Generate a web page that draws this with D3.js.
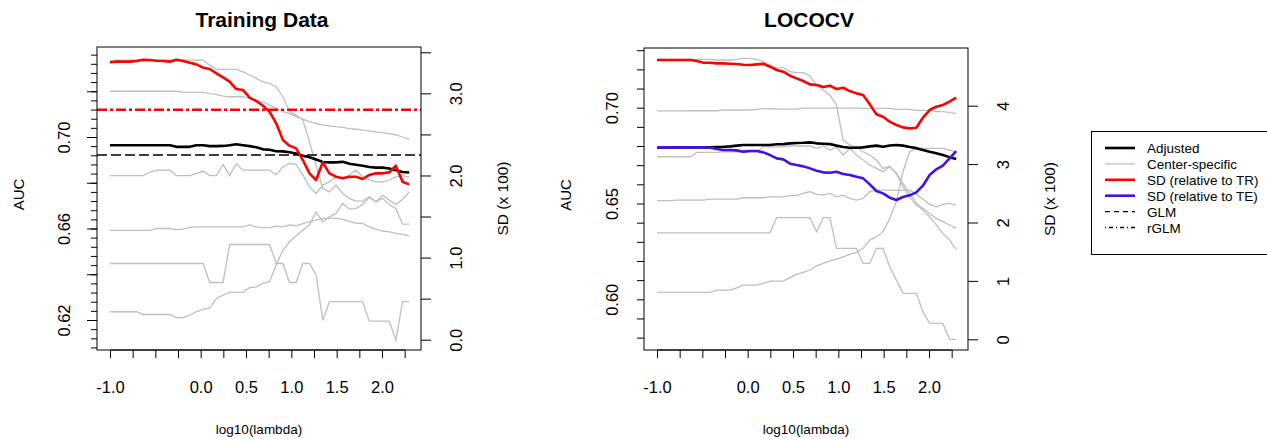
<!DOCTYPE html>
<html>
<head>
<meta charset="utf-8">
<script src="https://cdn.jsdelivr.net/npm/d3@7"></script>
<style>
  body { margin: 0; background: #fff; }
  svg text { font-family: "Liberation Sans", Arial, Helvetica, sans-serif; fill: #000; }
</style>
</head>
<body>
<script>
// log10(lambda) grid shared by every curve
const logLambda = [-1.000,-0.927,-0.853,-0.780,-0.707,-0.633,-0.560,-0.487,-0.413,-0.340,-0.267,-0.193,-0.120,-0.047,0.027,0.100,0.173,0.247,0.320,0.393,0.467,0.540,0.613,0.687,0.760,0.833,0.907,0.980,1.053,1.127,1.200,1.273,1.347,1.420,1.493,1.567,1.640,1.713,1.787,1.860,1.933,2.007,2.080,2.153,2.227,2.300]

// ---- Training Data panel (AUC on left axis, SD x100 on right axis)
const trAdjusted = [0.6964,0.6964,0.6964,0.6964,0.6964,0.6964,0.6964,0.6964,0.6964,0.6964,0.6957,0.6957,0.6957,0.6964,0.6964,0.6960,0.6960,0.6961,0.6964,0.6968,0.6964,0.6960,0.6955,0.6946,0.6944,0.6938,0.6937,0.6933,0.6928,0.6918,0.6911,0.6902,0.6891,0.6889,0.6889,0.6892,0.6883,0.6879,0.6874,0.6869,0.6866,0.6866,0.6862,0.6855,0.6847,0.6845]
const trCenterA = [0.7333,0.7336,0.7336,0.7336,0.7336,0.7336,0.7336,0.7336,0.7336,0.7336,0.7336,0.7336,0.7336,0.7336,0.7336,0.7314,0.7296,0.7296,0.7296,0.7296,0.7285,0.7271,0.7256,0.7241,0.7234,0.7219,0.7176,0.7110,0.7096,0.7074,0.6979,0.6877,0.6775,0.6760,0.6790,0.6753,0.6732,0.6720,0.6720,0.6739,0.6717,0.6732,0.6705,0.6687,0.6619,0.6619]
const trCenterB = [0.7200,0.7200,0.7200,0.7200,0.7200,0.7200,0.7200,0.7200,0.7200,0.7200,0.7200,0.7195,0.7195,0.7195,0.7195,0.7190,0.7186,0.7179,0.7176,0.7176,0.7176,0.7169,0.7160,0.7154,0.7139,0.7126,0.7111,0.7102,0.7089,0.7078,0.7067,0.7059,0.7052,0.7049,0.7045,0.7042,0.7037,0.7034,0.7030,0.7027,0.7022,0.7019,0.7015,0.7009,0.7000,0.6990]
const trCenterC = [0.6831,0.6831,0.6831,0.6831,0.6831,0.6831,0.6847,0.6855,0.6855,0.6855,0.6831,0.6831,0.6831,0.6840,0.6851,0.6831,0.6831,0.6880,0.6831,0.6883,0.6855,0.6855,0.6855,0.6855,0.6855,0.6834,0.6870,0.6884,0.6880,0.6834,0.6782,0.6753,0.6790,0.6804,0.6826,0.6819,0.6834,0.6855,0.6826,0.6812,0.6804,0.6804,0.6812,0.6826,0.6831,0.6826]
const trCenterD = [0.6592,0.6592,0.6592,0.6592,0.6592,0.6592,0.6592,0.6600,0.6600,0.6600,0.6595,0.6597,0.6605,0.6607,0.6607,0.6607,0.6607,0.6607,0.6607,0.6607,0.6607,0.6616,0.6607,0.6604,0.6604,0.6610,0.6607,0.6616,0.6612,0.6621,0.6629,0.6637,0.6644,0.6644,0.6644,0.6641,0.6631,0.6624,0.6622,0.6607,0.6597,0.6589,0.6585,0.6579,0.6574,0.6568]
const trCenterE = [0.6447,0.6447,0.6447,0.6447,0.6447,0.6447,0.6447,0.6447,0.6447,0.6447,0.6447,0.6447,0.6447,0.6447,0.6447,0.6364,0.6364,0.6364,0.6530,0.6530,0.6530,0.6530,0.6530,0.6530,0.6530,0.6447,0.6447,0.6364,0.6364,0.6447,0.6447,0.6397,0.6199,0.6280,0.6280,0.6280,0.6280,0.6280,0.6280,0.6195,0.6195,0.6195,0.6195,0.6112,0.6280,0.6280]
const trCenterF = [0.6236,0.6236,0.6236,0.6236,0.6236,0.6224,0.6224,0.6224,0.6224,0.6224,0.6210,0.6210,0.6222,0.6236,0.6246,0.6252,0.6294,0.6309,0.6321,0.6321,0.6321,0.6341,0.6345,0.6360,0.6367,0.6440,0.6505,0.6542,0.6568,0.6592,0.6616,0.6672,0.6629,0.6651,0.6666,0.6709,0.6685,0.6687,0.6705,0.6735,0.6717,0.6746,0.6724,0.6705,0.6728,0.6760]
const trSD = [3.378,3.386,3.386,3.386,3.394,3.410,3.406,3.398,3.394,3.386,3.410,3.394,3.374,3.353,3.313,3.297,3.244,3.195,3.142,3.053,3.041,2.948,2.907,2.850,2.777,2.635,2.432,2.363,2.330,2.188,2.026,1.945,2.160,2.026,1.985,1.965,1.985,1.985,1.957,2.006,2.026,2.026,2.038,2.119,1.924,1.892]
const trGLM = 0.6921      // GLM AUC (dashed)
const trRGLMsd = 2.80     // rGLM SD (dash-dot, right axis)

// ---- LOCOCV panel
const cvAdjusted = [0.6793,0.6793,0.6793,0.6793,0.6793,0.6793,0.6793,0.6793,0.6793,0.6795,0.6796,0.6798,0.6802,0.6805,0.6805,0.6805,0.6805,0.6805,0.6809,0.6810,0.6814,0.6816,0.6817,0.6819,0.6814,0.6812,0.6810,0.6802,0.6795,0.6791,0.6791,0.6793,0.6798,0.6802,0.6796,0.6803,0.6805,0.6802,0.6795,0.6789,0.6779,0.6770,0.6762,0.6753,0.6742,0.6732]
const cvCenterA = [0.7252,0.7252,0.7252,0.7252,0.7252,0.7252,0.7252,0.7252,0.7252,0.7249,0.7249,0.7249,0.7252,0.7257,0.7257,0.7252,0.7240,0.7223,0.7205,0.7210,0.7188,0.7183,0.7183,0.7165,0.7118,0.7092,0.7066,0.7014,0.6831,0.6805,0.6796,0.6770,0.6753,0.6727,0.6683,0.6695,0.6657,0.6588,0.6535,0.6492,0.6466,0.6431,0.6388,0.6344,0.6309,0.6261]
const cvCenterB = [0.6983,0.6983,0.6983,0.6983,0.6983,0.6984,0.6984,0.6984,0.6984,0.6984,0.6988,0.6988,0.6988,0.6988,0.6988,0.6991,0.6995,0.6995,0.6993,0.6993,0.6993,0.6993,0.6998,0.6998,0.6998,0.6998,0.6998,0.6998,0.6998,0.6998,0.6998,0.6996,0.6996,0.6996,0.6996,0.6996,0.6991,0.6991,0.6991,0.6986,0.6986,0.6986,0.6979,0.6979,0.6974,0.6970]
const cvCenterC = [0.6744,0.6744,0.6744,0.6744,0.6744,0.6744,0.6767,0.6767,0.6767,0.6767,0.6770,0.6770,0.6770,0.6770,0.6770,0.6770,0.6796,0.6796,0.6796,0.6796,0.6800,0.6800,0.6800,0.6800,0.6788,0.6800,0.6779,0.6793,0.6753,0.6788,0.6753,0.6727,0.6701,0.6683,0.6666,0.6692,0.6657,0.6605,0.6553,0.6501,0.6475,0.6448,0.6422,0.6405,0.6388,0.6370]
const cvCenterD = [0.6515,0.6515,0.6515,0.6518,0.6518,0.6518,0.6518,0.6518,0.6523,0.6523,0.6523,0.6523,0.6523,0.6530,0.6530,0.6530,0.6530,0.6535,0.6535,0.6535,0.6541,0.6541,0.6553,0.6562,0.6548,0.6544,0.6553,0.6535,0.6544,0.6527,0.6518,0.6527,0.6562,0.6570,0.6570,0.6570,0.6570,0.6570,0.6570,0.6548,0.6523,0.6495,0.6483,0.6495,0.6501,0.6492]
const cvCenterE = [0.6347,0.6347,0.6347,0.6347,0.6347,0.6347,0.6347,0.6347,0.6347,0.6347,0.6347,0.6347,0.6347,0.6347,0.6347,0.6347,0.6347,0.6347,0.6426,0.6426,0.6426,0.6426,0.6426,0.6426,0.6353,0.6426,0.6426,0.6266,0.6266,0.6266,0.6266,0.6187,0.6187,0.6266,0.6266,0.6170,0.6100,0.6031,0.6031,0.6031,0.5935,0.5874,0.5874,0.5874,0.5791,0.5791]
const cvCenterF = [0.6036,0.6036,0.6036,0.6036,0.6036,0.6036,0.6036,0.6036,0.6036,0.6048,0.6048,0.6048,0.6060,0.6074,0.6074,0.6074,0.6083,0.6095,0.6095,0.6095,0.6113,0.6130,0.6140,0.6153,0.6175,0.6187,0.6200,0.6210,0.6222,0.6234,0.6245,0.6266,0.6309,0.6327,0.6353,0.6422,0.6509,0.6666,0.6770,0.6788,0.6788,0.6788,0.6788,0.6788,0.6779,0.6770]
const cvSDtr = [4.782,4.782,4.782,4.782,4.782,4.782,4.765,4.736,4.736,4.725,4.725,4.719,4.714,4.702,4.697,4.708,4.719,4.668,4.611,4.582,4.514,4.468,4.423,4.365,4.354,4.320,4.343,4.286,4.308,4.251,4.211,4.183,4.023,3.852,3.812,3.726,3.669,3.629,3.612,3.623,3.795,3.926,3.983,4.012,4.069,4.137]
const cvSDte = [3.287,3.287,3.287,3.287,3.287,3.287,3.287,3.287,3.281,3.258,3.241,3.241,3.235,3.213,3.224,3.224,3.201,3.155,3.098,3.081,3.007,2.984,2.961,2.927,2.887,2.859,2.853,2.870,2.830,2.813,2.784,2.756,2.653,2.539,2.499,2.425,2.385,2.436,2.465,2.516,2.630,2.813,2.910,2.973,3.098,3.224]

// ---- ticks
const xTicks = [-1, -0.75, -0.5, -0.25, 0, 0.25, 0.5, 0.75, 1, 1.25, 1.5, 1.75, 2, 2.25]
const xTickLabels = ["-1.0", "", "", "", "0.0", "", "0.5", "", "1.0", "", "1.5", "", "2.0", ""]
const trAucTicks = [0.62, 0.64, 0.66, 0.68, 0.70, 0.72]
const trAucLabels = ["0.62", "", "0.66", "", "0.70", ""]
const trSdTicks = [0, 0.5, 1, 1.5, 2, 2.5, 3, 3.5]
const trSdLabels = ["0.0", "", "1.0", "", "2.0", "", "3.0", ""]
const cvAucTicks = [0.58, 0.59, 0.60, 0.61, 0.62, 0.63, 0.64, 0.65, 0.66, 0.67, 0.68, 0.69, 0.70, 0.71, 0.72, 0.73]
const cvAucLabels = ["", "", "0.60", "", "", "", "", "0.65", "", "", "", "", "0.70", "", "", ""]
const cvSdTicks = [0, 1, 2, 3, 4]
const cvSdLabels = ["0", "1", "2", "3", "4"]

const legendLabels = ["Adjusted", "Center-specific", "SD (relative to TR)", "SD (relative to TE)", "GLM", "rGLM"]

const GRAY = "#bebebe", RED = "#ff0000", BLUE = "#4410e6"
const W = 1267, H = 439

const svg = d3.select("body").append("svg").attr("width", W).attr("height", H)

// rotate tick labels so they read bottom-to-top like R's las=0
function rotateTicks(g, offset) {
  g.attr("font-size", null).attr("font-family", null)
  g.select(".domain").remove()
  g.selectAll("text")
    .attr("x", null).attr("y", null).attr("dy", null)
    .attr("text-anchor", "middle")
    .attr("transform", "translate(" + offset + ",0) rotate(-90)")
    .style("font-size", "16.5px")
}

function drawPanel(p) {
  const x = d3.scaleLinear().domain([-1, 2]).range([p.x0 + 13, p.x0 + 285])
  const yA = d3.scaleLinear().domain(p.aucDomain).range(p.aucRange)
  const yS = d3.scaleLinear().domain([p.sdTicks[0], p.sdTicks[p.sdTicks.length - 1]]).range(p.sdRange)

  svg.append("clipPath").attr("id", "clip-" + p.id)
    .append("rect").attr("x", p.x0).attr("y", p.y0).attr("width", p.x1 - p.x0).attr("height", p.y1 - p.y0)
  const plot = svg.append("g").attr("clip-path", "url(#clip-" + p.id + ")")

  const lineA = d3.line().x((d, i) => x(logLambda[i])).y(d => yA(d))
  const lineS = d3.line().x((d, i) => x(logLambda[i])).y(d => yS(d))

  p.centers.forEach(c => {
    plot.append("path").attr("d", lineA(c))
      .attr("fill", "none").attr("stroke", GRAY).attr("stroke-width", 1.3)
  })

  if (p.glm != null) {
    plot.append("line")
      .attr("x1", p.x0).attr("x2", p.x1).attr("y1", yA(p.glm)).attr("y2", yA(p.glm))
      .attr("stroke", "#000").attr("stroke-width", 1.6).attr("stroke-dasharray", "10,4")
  }

  plot.append("path").attr("d", lineA(p.adjusted))
    .attr("fill", "none").attr("stroke", "#000").attr("stroke-width", 2.6).attr("stroke-linejoin", "round")

  p.sd.forEach(s => {
    plot.append("path").attr("d", lineS(s.values))
      .attr("fill", "none").attr("stroke", s.color).attr("stroke-width", 2.6).attr("stroke-linejoin", "round")
  })

  if (p.rglmSd != null) {
    plot.append("line")
      .attr("x1", p.x0).attr("x2", p.x1).attr("y1", yS(p.rglmSd)).attr("y2", yS(p.rglmSd))
      .attr("stroke", RED).attr("stroke-width", 2.4).attr("stroke-dasharray", "10,3,3,3")
  }

  // box
  svg.append("rect").attr("x", p.x0).attr("y", p.y0).attr("width", p.x1 - p.x0).attr("height", p.y1 - p.y0)
    .attr("fill", "none").attr("stroke", "#000").attr("stroke-width", 1)

  // x axis
  const gx = svg.append("g").attr("transform", "translate(0," + p.y1 + ")")
    .call(d3.axisBottom(x).tickValues(xTicks).tickSize(8).tickFormat((d, i) => xTickLabels[i]))
  gx.attr("font-size", null).attr("font-family", null)
  gx.select(".domain").remove()
  gx.selectAll("text").attr("dy", null).attr("y", 43).style("font-size", "16.5px")
  svg.append("line").attr("x1", x(xTicks[0])).attr("x2", x(xTicks[xTicks.length - 1]))
    .attr("y1", p.y1).attr("y2", p.y1).attr("stroke", "#000")

  // left AUC axis
  if (p.aucMinor) {
    svg.append("g").attr("transform", "translate(" + p.x0 + ",0)")
      .call(d3.axisLeft(yA).tickValues(p.aucMinor).tickSize(6).tickFormat(""))
      .call(g => g.select(".domain").remove())
  }
  svg.append("g").attr("transform", "translate(" + p.x0 + ",0)")
    .call(d3.axisLeft(yA).tickValues(p.aucTicks).tickSize(p.aucTickLen).tickFormat((d, i) => p.aucLabels[i]))
    .call(g => rotateTicks(g, -p.aucLabelOff))

  // right SD axis
  svg.append("g").attr("transform", "translate(" + p.x1 + ",0)")
    .call(d3.axisRight(yS).tickValues(p.sdTicks).tickSize(10).tickFormat((d, i) => p.sdLabels[i]))
    .call(g => rotateTicks(g, 41))

  // titles
  const cy = (p.y0 + p.y1) / 2
  svg.append("text").attr("x", (p.x0 + p.x1) / 2 + 3).attr("y", 27)
    .attr("text-anchor", "middle").style("font-size", "21px").style("font-weight", "bold")
    .text(p.title)
  svg.append("text").attr("transform", "translate(" + (p.x0 - 73) + "," + (cy - 4) + ") rotate(-90)")
    .attr("text-anchor", "middle").style("font-size", "15px").text("AUC")
  svg.append("text").attr("transform", "translate(" + (p.x1 + 87) + "," + cy + ") rotate(-90)")
    .attr("text-anchor", "middle").style("font-size", "15.5px").text("SD (x 100)")
  svg.append("text").attr("x", (p.x0 + p.x1) / 2).attr("y", 434)
    .attr("text-anchor", "middle").style("font-size", "13.5px").text("log10(lambda)")
}

drawPanel({
  id: "tr", title: "Training Data",
  x0: 97, x1: 421, y0: 47, y1: 350,
  aucTicks: trAucTicks, aucLabels: trAucLabels, aucDomain: [0.62, 0.70], aucRange: [320, 137], aucTickLen: 10, aucLabelOff: 27,
  aucMinor: d3.range(0.608, 0.7365, 0.004),
  sdTicks: trSdTicks, sdLabels: trSdLabels, sdRange: [339.7, 52.3],
  centers: [trCenterA, trCenterB, trCenterC, trCenterD, trCenterE, trCenterF],
  adjusted: trAdjusted,
  sd: [{ values: trSD, color: RED }],
  glm: trGLM, rglmSd: trRGLMsd
})

drawPanel({
  id: "cv", title: "LOCOCV",
  x0: 644, x1: 968, y0: 48, y1: 350,
  aucTicks: cvAucTicks, aucLabels: cvAucLabels, aucDomain: [0.60, 0.70], aucRange: [299.3, 107.7], aucTickLen: 7, aucLabelOff: 26,
  aucMinor: null,
  sdTicks: cvSdTicks, sdLabels: cvSdLabels, sdRange: [339.3, 105.7],
  centers: [cvCenterA, cvCenterB, cvCenterC, cvCenterD, cvCenterE, cvCenterF],
  adjusted: cvAdjusted,
  sd: [{ values: cvSDtr, color: RED }, { values: cvSDte, color: BLUE }],
  glm: null, rglmSd: null
})

// legend
const legendStyles = [
  { color: "#000", w: 2.6, dash: null },
  { color: GRAY, w: 1.3, dash: null },
  { color: RED, w: 2.6, dash: null },
  { color: BLUE, w: 2.6, dash: null },
  { color: "#000", w: 1.3, dash: "5,4" },
  { color: "#000", w: 1.3, dash: "1,3,4,3" }
]
const lg = svg.append("g")
lg.append("rect").attr("x", 1091.5).attr("y", 131.5).attr("width", 200).attr("height", 123)
  .attr("fill", "#fff").attr("stroke", "#000")
const ly = d3.scalePoint().domain(legendLabels).range([148, 227.5])
legendLabels.forEach((name, i) => {
  const s = legendStyles[i]
  lg.append("line").attr("x1", 1105).attr("x2", 1135).attr("y1", ly(name)).attr("y2", ly(name))
    .attr("stroke", s.color).attr("stroke-width", s.w).attr("stroke-dasharray", s.dash)
  lg.append("text").attr("x", 1147).attr("y", ly(name) + 5).style("font-size", "13.5px").text(name)
})
</script>
</body>
</html>
